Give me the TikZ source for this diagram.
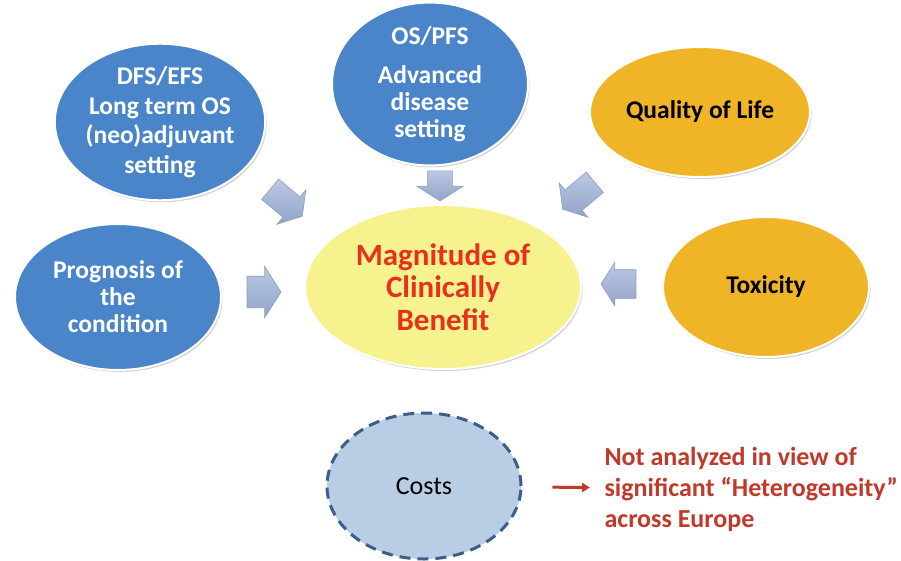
\documentclass[tikz,border=0pt]{standalone}
\usepackage{fontspec}
\setmainfont{Carlito}
\usetikzlibrary{shapes.geometric,shapes.arrows,shadows,arrows.meta}
\definecolor{ovalblue}{HTML}{4A85C9}
\definecolor{ovalgold}{HTML}{F0B526}
\definecolor{ovalyellow}{HTML}{F6F28E}
\definecolor{costfill}{HTML}{B9CDE5}
\definecolor{costline}{HTML}{3B5E8A}
\definecolor{blockfill}{HTML}{A3B6DC}
\definecolor{blockline}{HTML}{8A9FC8}
\definecolor{titlered}{HTML}{E8301F}
\definecolor{notered}{HTML}{C0392B}

\begin{document}
\begin{tikzpicture}[x=1pt,y=-1pt,
  bubble/.style={ellipse, draw=white, line width=2pt, inner sep=0pt, align=center,
    drop shadow={opacity=0.35, shadow xshift=1.5pt, shadow yshift=-2pt}},
  blueoval/.style={bubble, fill=ovalblue, text=white},
  goldoval/.style={bubble, fill=ovalgold, text=black},
  blockarrow/.style={single arrow, draw=blockline, line width=0.6pt,
    top color=blockfill!75!white, bottom color=blockfill!90!black,
    inner xsep=0pt, single arrow tip angle=115}]

  % page
  \useasboundingbox (0,0) rectangle (901,560);

  % outer ovals
  \node[blueoval, minimum width=204pt, minimum height=156pt,
    font=\bfseries\fontsize{25.5}{29.5}\selectfont] (dfs) at (160,122)
    {DFS/EFS\\Long term OS\\(neo)adjuvant\\setting};
  \node[blueoval, minimum width=196pt, minimum height=142pt,
    font=\bfseries\fontsize{25.5}{27}\selectfont] (ospfs) at (430,84)
    {OS/PFS\\[12pt]Advanced\\disease\\setting};
  \node[goldoval, minimum width=220pt, minimum height=130pt,
    font=\bfseries\fontsize{25.5}{28}\selectfont] (qol) at (700,112) {Quality of Life};
  \node[blueoval, minimum width=206pt, minimum height=146pt,
    font=\bfseries\fontsize{25.5}{27}\selectfont] (prog) at (118,297)
    {Prognosis of\\the\\condition};
  \node[goldoval, minimum width=206pt, minimum height=140pt,
    font=\bfseries\fontsize{25.5}{28}\selectfont] (tox) at (766,287) {Toxicity};

  % centre
  \node[bubble, fill=ovalyellow, text=titlered, minimum width=276pt, minimum height=164pt,
    font=\bfseries\fontsize{31}{32.5}\selectfont] (mcb) at (443,287)
    {Magnitude of\\Clinically\\Benefit};

  % block arrows towards the centre
  \node[blockarrow, minimum height=30pt, inner ysep=12pt, single arrow head extend=11pt,
    rotate=-90] (arT) at (440,182) {};
  \node[blockarrow, minimum height=42pt, inner ysep=13pt, single arrow head extend=9pt,
    rotate=-40] (arTL) at (283,200) {};
  \node[blockarrow, minimum height=42pt, inner ysep=13pt, single arrow head extend=9pt,
    rotate=220] (arTR) at (582,193) {};
  \node[blockarrow, minimum height=34pt, inner ysep=15.5pt, single arrow head extend=10pt]
    (arL) at (259,292) {};
  \node[blockarrow, minimum height=35pt, inner ysep=14pt, single arrow head extend=7.5pt,
    rotate=180] (arR) at (623,284) {};

  % costs
  \node[ellipse, fill=costfill, draw=costline, line width=3pt, dash pattern=on 11pt off 7pt,
    minimum width=194pt, minimum height=146pt, font=\fontsize{26}{30}\selectfont] (costs) at (424,486) {Costs};
  \node[anchor=west, align=left, text=notered, font=\bfseries\fontsize{26}{31}\selectfont] (note) at (601,489)
    {Not analyzed in view of\\significant “Heterogeneity”\\across Europe};
  \draw[notered, line width=3pt, -{Triangle[length=8pt,width=9pt]}, shorten <=30pt, shorten >=11pt]
    (costs) -- (note);

\end{tikzpicture}
\end{document}
